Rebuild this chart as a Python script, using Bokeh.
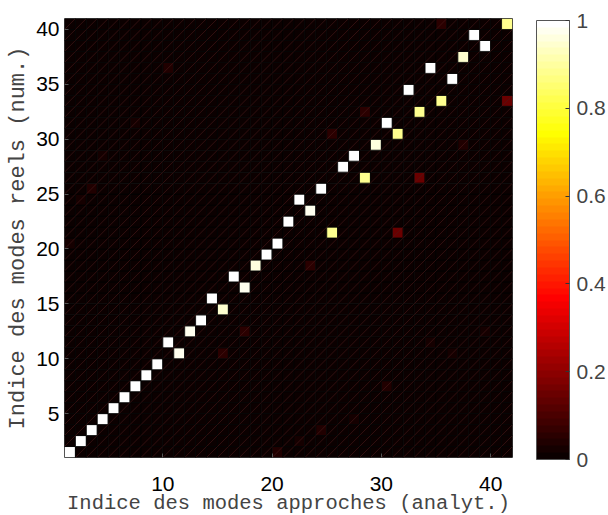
import numpy as np
from bokeh.plotting import figure
from bokeh.models import (ColumnDataSource, LinearColorMapper, ColorBar,
                          FixedTicker, Range1d)
from bokeh.transform import transform
from bokeh.embed import file_html
from bokeh.resources import INLINE

# ---------------- data ----------------
N_ANALYT = 41   # approximated (analytical) modes -> columns
N_NUM = 40      # real (numerical) modes -> rows

# best match of every numerical mode
match_num = list(range(1, 41))
match_analyt = [1, 2, 3, 4, 5, 6, 7, 8, 9, 11, 10, 12, 13, 15, 14, 17, 16, 18, 19, 20,
                25, 21, 23, 22, 24, 28, 26, 27, 29, 31, 30, 33, 35, 32, 36, 34, 37, 39, 38, 41]
match_mac = [1.0, 1.0, 1.0, 1.0, 1.0, 1.0, 1.0, 1.0, 1.0, 0.97, 1.0, 0.97, 1.0, 0.95, 1.0,
             0.97, 1.0, 0.96, 1.0, 1.0, 0.88, 1.0, 0.97, 1.0, 1.0, 0.88, 1.0, 1.0, 0.96, 0.88,
             1.0, 0.88, 0.88, 1.0, 1.0, 1.0, 0.95, 1.0, 1.0, 0.88]

# weak cross terms
cross_analyt = [35, 41, 28, 25, 37, 33, 31, 23, 17, 15, 34, 36, 39, 30, 27, 24, 22, 20, 10, 7, 4, 3, 2, 1]
cross_num = [40, 33, 32, 30, 29, 26, 21, 18, 12, 10, 11, 10, 12, 7, 4, 3, 2, 1, 36, 31, 28, 25, 24, 20]
cross_mac = [0.06, 0.15, 0.06, 0.06, 0.04, 0.15, 0.15, 0.05, 0.05, 0.05, 0.03, 0.03, 0.03, 0.04,
             0.03, 0.04, 0.03, 0.04, 0.04, 0.03, 0.03, 0.04, 0.03, 0.02]

x_ticks = [10, 20, 30, 40]
y_ticks = [5, 10, 15, 20, 25, 30, 35, 40]
cb_ticks = [0, 0.2, 0.4, 0.6, 0.8, 1]
cb_labels = ["0", "0.2", "0.4", "0.6", "0.8", "1"]


def hot_palette(n=64):
    n1 = int(3 * n / 8)
    cols = []
    for i in range(n):
        r = min(1.0, (i + 1) / n1)
        g = min(1.0, max(0.0, (i + 1 - n1) / n1))
        b = max(0.0, (i + 1 - 2 * n1) / (n - 2 * n1))
        cols.append("#%02x%02x%02x" % (round(r * 255), round(g * 255), round(b * 255)))
    return cols


hot = hot_palette(64)

M = np.zeros((N_NUM, N_ANALYT))
for a, n_, v in zip(match_analyt, match_num, match_mac):
    M[n_ - 1, a - 1] = v
for a, n_, v in zip(cross_analyt, cross_num, cross_mac):
    M[n_ - 1, a - 1] = v

xs, ys, vals = [], [], []
sx0, sy0, sx1, sy1 = [], [], [], []
for r in range(N_NUM):
    for c in range(N_ANALYT):
        xs.append(c + 1 + 0.5)   # pcolor-like cell: [c, c+1]
        ys.append(r + 1 + 0.5)
        vals.append(M[r, c])
        if M[r, c] < 0.5:        # rendering seam of the dark cells
            sx0.append(c + 1)
            sy0.append(r + 1)
            sx1.append(c + 2)
            sy1.append(r + 2)
src = ColumnDataSource(dict(x=xs, y=ys, mac=vals))
seams = ColumnDataSource(dict(x0=sx0, y0=sy0, x1=sx1, y1=sy1))

mapper = LinearColorMapper(palette=hot, low=0, high=1)

# ---------------- figure ----------------
p = figure(frame_width=448, frame_height=439,
           x_range=Range1d(1, N_ANALYT + 1), y_range=Range1d(1, N_NUM + 1),
           output_backend="svg", toolbar_location=None,
           min_border_left=64, min_border_top=18, min_border_bottom=58,
           min_border_right=93)

p.rect(x="x", y="y", width=1, height=1, source=src,
       fill_color=transform("mac", mapper), line_color="black", line_width=0.8)
p.segment(x0="x0", y0="y0", x1="x1", y1="y1", source=seams,
          line_color="#4a1a1a", line_width=0.7, line_alpha=0.9)

p.xgrid.visible = False
p.ygrid.visible = False
p.outline_line_color = "#666666"
p.outline_line_width = 1

p.xaxis.ticker = FixedTicker(ticks=x_ticks)
p.yaxis.ticker = FixedTicker(ticks=y_ticks)
for ax in (p.xaxis[0], p.yaxis[0]):
    ax.axis_line_color = None
    ax.major_tick_in = 4
    ax.major_tick_out = 0
    ax.major_tick_line_color = "#555555"
    ax.minor_tick_line_color = None
    ax.major_label_text_font = "Liberation Sans"
    ax.major_label_text_font_size = "21px"
    ax.major_label_text_color = "black"
    ax.axis_label_text_font = "Liberation Mono"
    ax.axis_label_text_font_style = "normal"
    ax.axis_label_text_color = "#444444"

p.xaxis.axis_label = "Indice des modes approches (analyt.)"
p.yaxis.axis_label = "Indice des modes reels (num.)"
p.xaxis.axis_label_text_font_size = "20.5px"
p.yaxis.axis_label_text_font_size = "22px"
p.xaxis.major_label_standoff = 19
p.xaxis.axis_label_standoff = -2
p.yaxis.major_label_standoff = 5
p.yaxis.axis_label_standoff = 2

cb = ColorBar(color_mapper=mapper, ticker=FixedTicker(ticks=cb_ticks),
              major_label_overrides={t: l for t, l in zip(cb_ticks, cb_labels)},
              width=33, height=439, padding=0, margin=0, location=(24, -2),
              bar_line_color="#555555", major_tick_in=4, major_tick_out=0,
              major_tick_line_color="#333333", minor_tick_line_color=None,
              major_label_text_font="Liberation Sans", major_label_text_font_size="21px",
              label_standoff=7, background_fill_color=None, border_line_color=None)
p.add_layout(cb, "right")

open("out.html", "w").write(file_html(p, INLINE))
